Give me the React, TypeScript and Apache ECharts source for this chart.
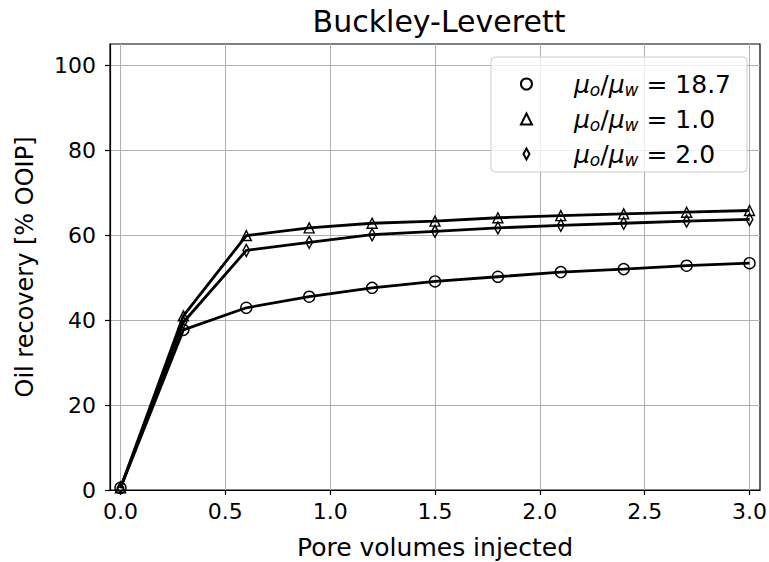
import React, { useEffect, useRef } from "react";
import * as echarts from "echarts";

const poreVolumes = [0, 0.3, 0.6, 0.9, 1.2, 1.5, 1.8, 2.1, 2.4, 2.7, 3.0];
const recovery187 = [0.5, 37.7, 42.9, 45.5, 47.6, 49.1, 50.2, 51.3, 52.0, 52.8, 53.4];
const recovery10 = [0.5, 41.0, 59.9, 61.7, 62.8, 63.3, 64.1, 64.6, 65.0, 65.4, 65.8];
const recovery20 = [0.5, 39.5, 56.4, 58.3, 60.1, 60.9, 61.7, 62.3, 62.8, 63.3, 63.7];
const ratioLabels = ["18.7", "1.0", "2.0"];
const xTicks = [0, 0.5, 1.0, 1.5, 2.0, 2.5, 3.0];
const yTicks = [0, 20, 40, 60, 80, 100];

const FONT = "DejaVu Sans";
const DIAMOND = "path://M0,-10 L5.5,0 L0,10 L-5.5,0 Z";

export default function App() {
  const ref = useRef<HTMLDivElement>(null);
  useEffect(() => {
    if (!ref.current) return;
    const chart = echarts.init(ref.current, null, { renderer: "svg" });
    const pair = (ys: number[]) => poreVolumes.map((x, i) => [x, ys[i]]);
    const mk = (name: string, ys: number[], symbol: string, size: any) => ({
      name,
      type: "line",
      data: pair(ys),
      symbol,
      symbolSize: size,
      symbolKeepAspect: true,
      showAllSymbol: true,
      lineStyle: { color: "#000", width: 2.8 },
      itemStyle: { color: "rgba(255,255,255,0)", borderColor: "#000", borderWidth: 1.4 },
      emphasis: { disabled: true },
      z: 3,
    });
    chart.setOption({
      animation: false,
      textStyle: { fontFamily: FONT },
      title: {
        text: "Buckley-Leverett",
        left: 434,
        top: 1,
        textAlign: "center",
        textStyle: { fontFamily: FONT, fontSize: 30, fontWeight: "normal", color: "#000" },
      },
      grid: {
        left: 110,
        right: 9,
        top: 44,
        bottom: 72,
        outerBoundsMode: "none",
        containLabel: false,
        show: true,
        borderColor: "#000",
        borderWidth: 1.2,
        backgroundColor: "transparent",
      },
      legend: {
        orient: "vertical",
        right: 22,
        top: 57,
        data: [
          { name: ratioLabels[0], icon: "circle" },
          { name: ratioLabels[1], icon: "triangle" },
          { name: ratioLabels[2], icon: DIAMOND },
        ],
        itemWidth: 11,
        itemHeight: 11,
        itemGap: 7,
        padding: [13, 16, 4, 29],
        backgroundColor: "rgba(255,255,255,0.8)",
        borderColor: "#cccccc",
        borderWidth: 1,
        borderRadius: 4,
        formatter: (name: string) => `{i|μ}{s|o}{t|/}{i|μ}{s|w}{t| = ${name}}`,
        textStyle: {
          padding: [0, 0, 0, 37],
          rich: {
            i: { fontFamily: FONT, fontStyle: "italic", fontSize: 25, color: "#000", lineHeight: 25 },
            s: { fontFamily: FONT, fontStyle: "italic", fontSize: 17, color: "#000", lineHeight: 25, padding: [11, 0, 0, 0] },
            t: { fontFamily: FONT, fontSize: 25, color: "#000", lineHeight: 25 },
          },
        },
      },
      xAxis: {
        type: "value",
        min: -0.05,
        max: 3.05,
        name: "Pore volumes injected",
        nameLocation: "middle",
        nameGap: 45,
        nameTextStyle: { fontFamily: FONT, fontSize: 25, color: "#000", verticalAlign: "top" },
        axisLine: { show: true, onZero: false, lineStyle: { color: "#000", width: 1.2 } },
        axisTick: { show: true, inside: false, length: 5, customValues: xTicks, lineStyle: { color: "#000", width: 1.2 } },
        axisLabel: {
          customValues: xTicks,
          margin: 10,
          fontFamily: FONT,
          fontSize: 22,
          color: "#000",
          formatter: (v: number) => v.toFixed(1),
        },
        splitLine: { show: true, lineStyle: { color: "#b0b0b0", width: 1 } },
      },
      yAxis: {
        type: "value",
        min: 0,
        max: 105,
        name: "Oil recovery [% OOIP]",
        nameLocation: "middle",
        nameGap: 73,
        nameTextStyle: { fontFamily: FONT, fontSize: 24, color: "#000" },
        axisLine: { show: true, onZero: false, lineStyle: { color: "#000", width: 1.2 } },
        axisTick: { show: true, inside: false, length: 5, customValues: yTicks, lineStyle: { color: "#000", width: 1.2 } },
        axisLabel: {
          customValues: yTicks,
          margin: 14,
          fontFamily: FONT,
          fontSize: 22,
          color: "#000",
        },
        splitLine: { show: true, lineStyle: { color: "#b0b0b0", width: 1 } },
      },
      series: [
        mk(ratioLabels[0], recovery187, "circle", 11),
        mk(ratioLabels[1], recovery10, "triangle", 10),
        mk(ratioLabels[2], recovery20, DIAMOND, 12),
      ],
    });
    return () => chart.dispose();
  }, []);
  return (
    <div
      ref={ref}
      style={{ position: "fixed", left: 0, top: 0, width: 769, height: 562, background: "#fff" }}
    />
  );
}
